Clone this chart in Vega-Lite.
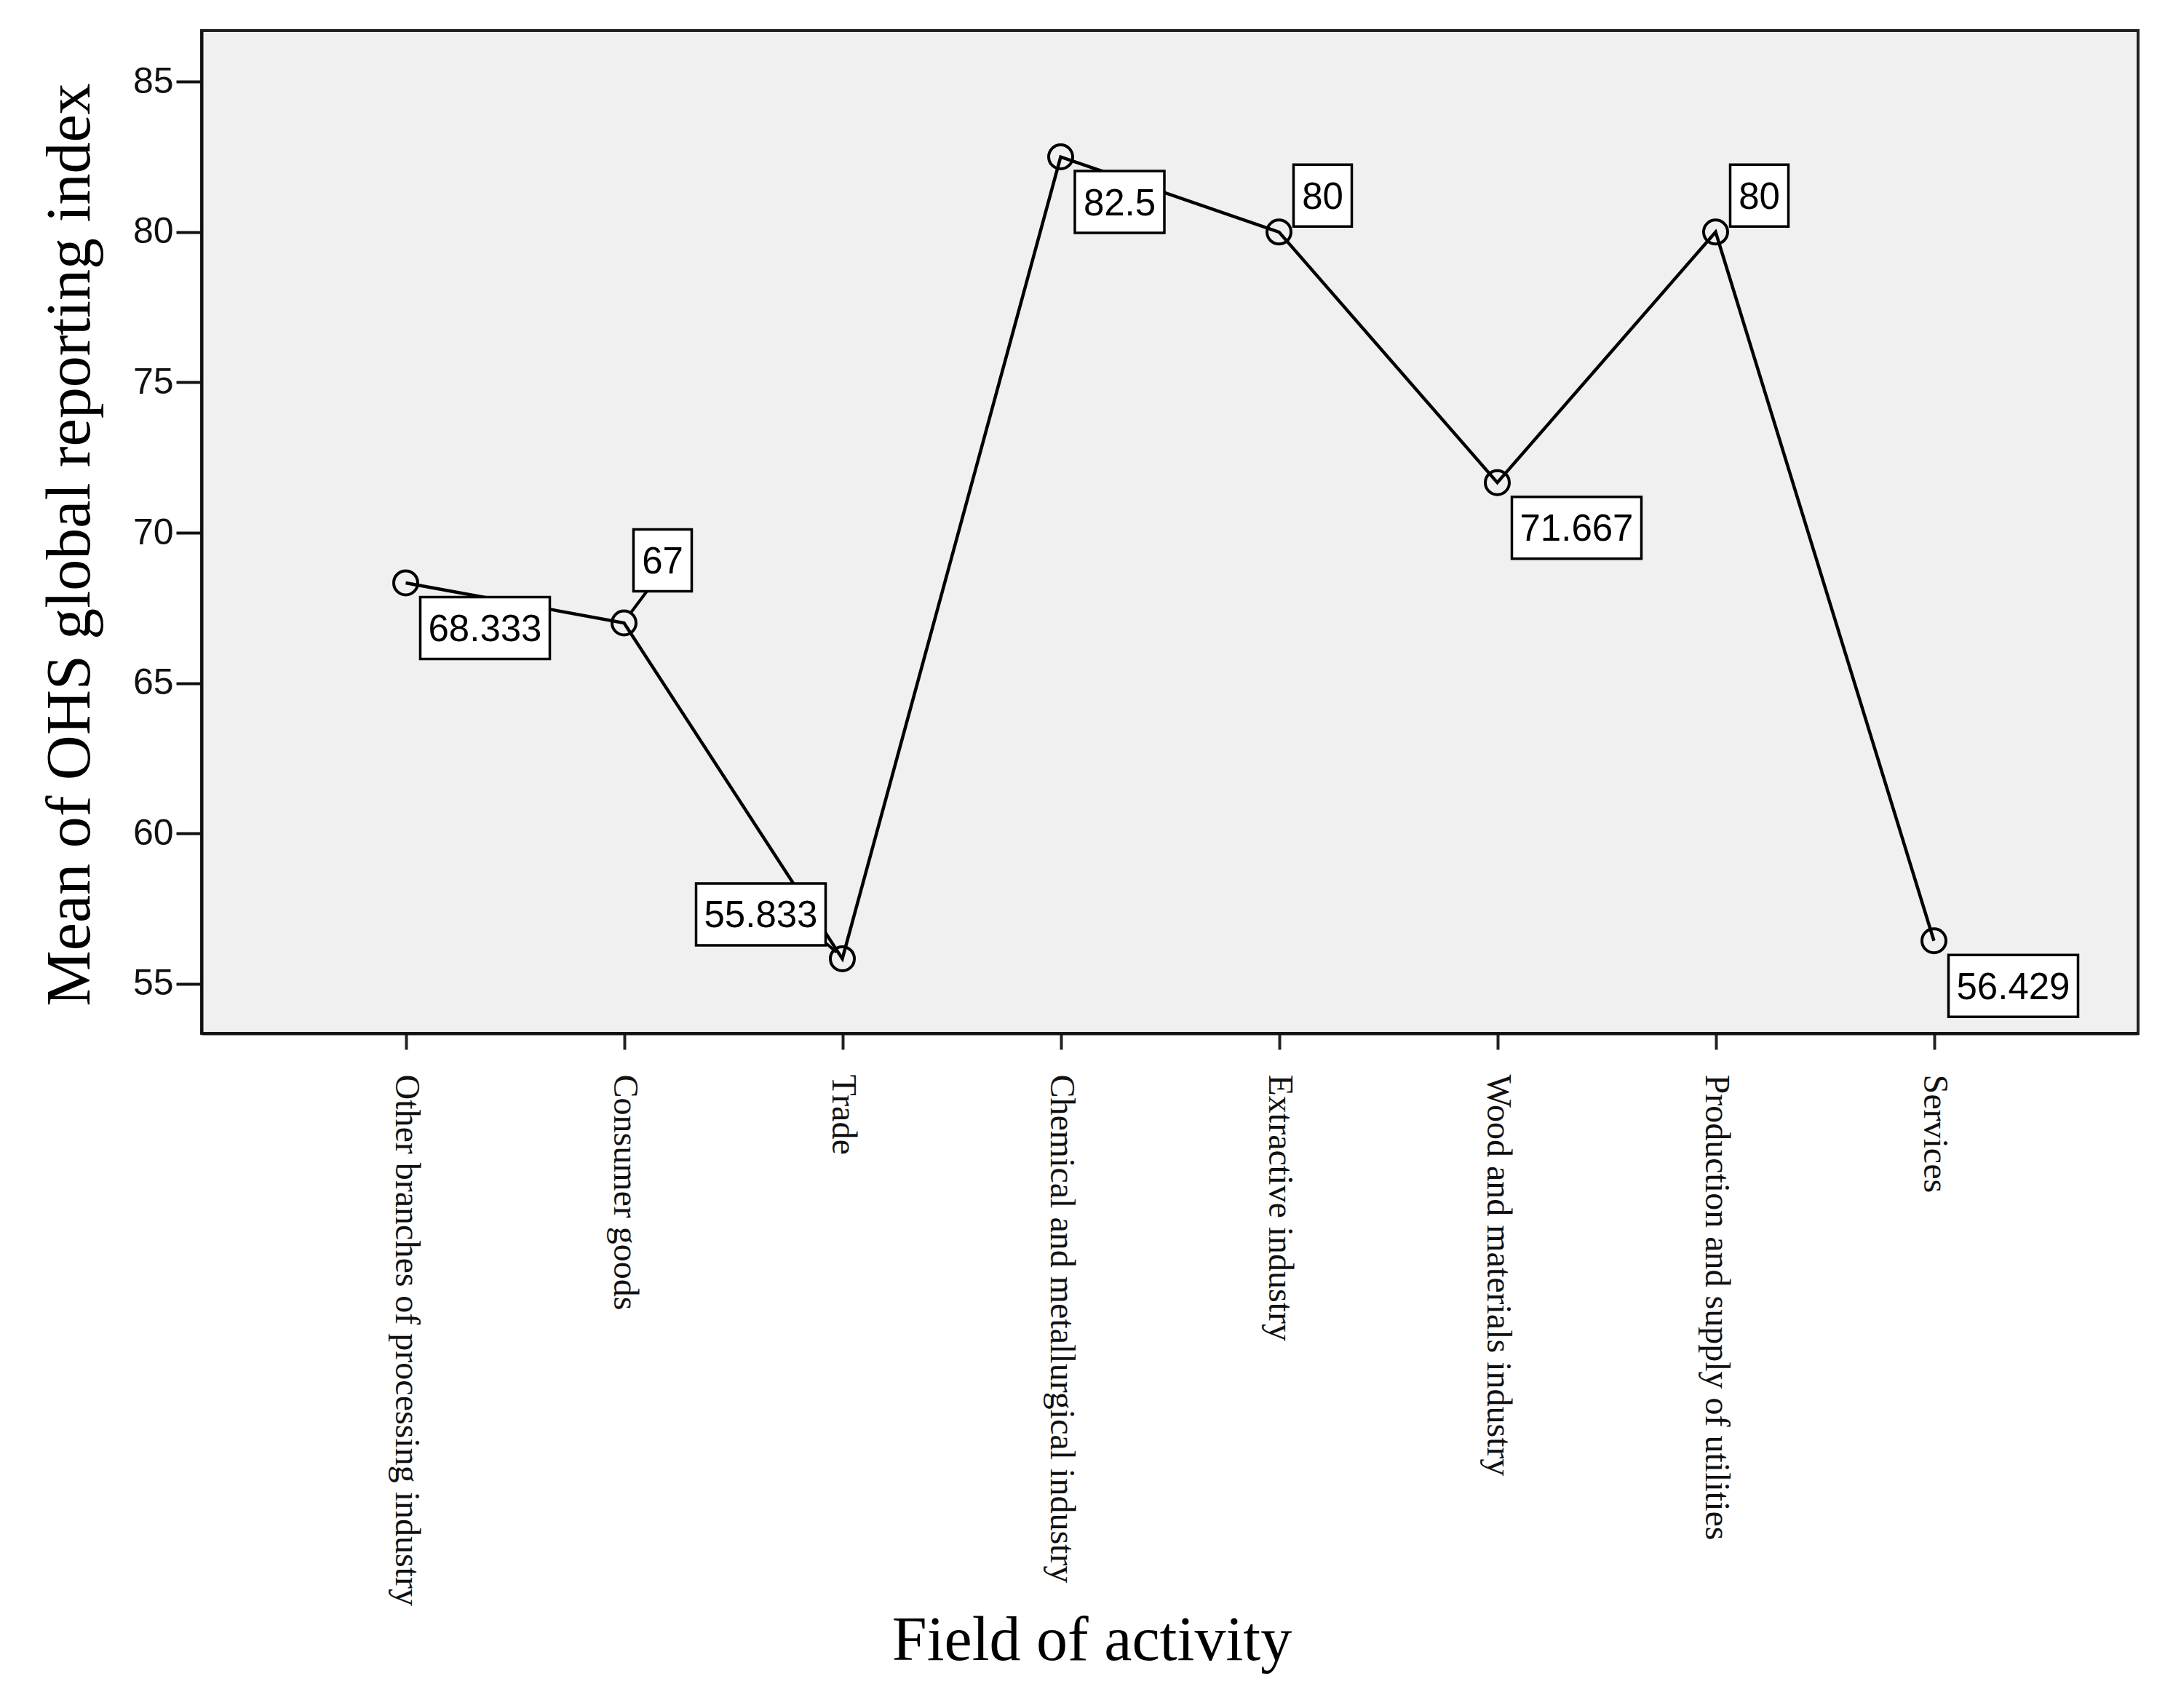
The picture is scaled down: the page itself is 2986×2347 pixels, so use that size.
{
  "$schema": "https://vega.github.io/schema/vega-lite/v6.json",
  "autosize": "none",
  "width": 2661,
  "height": 1378,
  "padding": {"left": 277, "top": 42, "right": 48, "bottom": 927},
  "background": "white",
  "config": {
    "view": {"fill": "#f0f0f0", "stroke": "#222222", "strokeWidth": 4}
  },
  "data": {
    "values": [
      {"field": "Other branches of processing industry", "mean": 68.333, "label": "68.333"},
      {"field": "Consumer goods", "mean": 67, "label": "67"},
      {"field": "Trade", "mean": 55.833, "label": "55.833"},
      {"field": "Chemical and metallurgical industry", "mean": 82.5, "label": "82.5"},
      {"field": "Extractive industry", "mean": 80, "label": "80"},
      {"field": "Wood and materials industry", "mean": 71.667, "label": "71.667"},
      {"field": "Production and supply of utilities", "mean": 80, "label": "80"},
      {"field": "Services", "mean": 56.429, "label": "56.429"}
    ]
  },
  "encoding": {
    "x": {
      "field": "field",
      "type": "nominal",
      "sort": null,
      "scale": {"type": "point", "padding": 0.935},
      "axis": {
        "title": "Field of activity",
        "titleFont": "Liberation Serif",
        "titleFontSize": 86,
        "titleFontWeight": "normal",
        "titleColor": "#000000",
        "titleX": 1223,
        "titleY": 860,
        "titleBaseline": "alphabetic",
        "titleAlign": "center",
        "labelAngle": 90,
        "labelAlign": "left",
        "labelBaseline": "middle",
        "labelFont": "Liberation Serif",
        "labelFontSize": 48,
        "labelColor": "#111111",
        "labelPadding": 34,
        "labelLimit": 0,
        "tickSize": 22,
        "tickWidth": 4,
        "tickColor": "#222222",
        "domainColor": "#111111",
        "domainWidth": 4,
        "grid": false
      }
    },
    "y": {
      "field": "mean",
      "type": "quantitative",
      "scale": {"domain": [53.35, 86.7], "nice": false, "zero": false},
      "axis": {
        "title": "Mean of OHS global reporting index",
        "titleFont": "Liberation Serif",
        "titleFontSize": 86,
        "titleFontWeight": "normal",
        "titleColor": "#000000",
        "titleAngle": -90,
        "titleX": -155,
        "titleY": 706,
        "titleBaseline": "alphabetic",
        "titleAlign": "center",
        "values": [55, 60, 65, 70, 75, 80, 85],
        "labelFont": "Liberation Sans",
        "labelFontSize": 50,
        "labelColor": "#111111",
        "labelPadding": 4,
        "tickSize": 35,
        "tickWidth": 4,
        "tickColor": "#111111",
        "domainColor": "#111111",
        "domainWidth": 4,
        "grid": false
      }
    }
  },
  "layer": [
    {"mark": {"type": "line", "color": "#000000", "strokeWidth": 4.5}},
    {"mark": {"type": "point", "shape": "circle", "filled": false, "stroke": "#000000", "strokeWidth": 4, "size": 1089, "opacity": 1}},
    {
      "transform": [{"filter": {"field": "field", "equal": "Consumer goods"}}],
      "mark": {"type": "rule", "color": "#000000", "strokeWidth": 4, "xOffset": 10, "yOffset": -15, "x2Offset": 31, "y2Offset": -43},
      "encoding": {"x2": {"field": "field"}, "y2": {"field": "mean"}}
    },
    {
      "transform": [{"filter": {"field": "field", "equal": "Trade"}}],
      "mark": {"type": "rule", "color": "#000000", "strokeWidth": 4, "xOffset": -8, "yOffset": -9, "x2Offset": -22, "y2Offset": -21},
      "encoding": {"x2": {"field": "field"}, "y2": {"field": "mean"}}
    },
    {
      "transform": [{"filter": {"field": "field", "oneOf": ["Other branches of processing industry", "Wood and materials industry", "Services"]}}],
      "mark": {"type": "point", "shape": "M-1,-0.4775H1V0.4775H-1Z", "size": 31684, "filled": true, "fill": "#ffffff", "stroke": "#000000", "strokeWidth": 3.5, "opacity": 1, "xOffset": 109, "yOffset": 62}
    },
    {
      "transform": [{"filter": {"field": "field", "equal": "Chemical and metallurgical industry"}}],
      "mark": {"type": "point", "shape": "M-1,-0.691H1V0.691H-1Z", "size": 15129, "filled": true, "fill": "#ffffff", "stroke": "#000000", "strokeWidth": 3.5, "opacity": 1, "xOffset": 81, "yOffset": 62}
    },
    {
      "transform": [{"filter": {"field": "field", "oneOf": ["Extractive industry", "Production and supply of utilities"]}}],
      "mark": {"type": "point", "shape": "M-1,-1.0625H1V1.0625H-1Z", "size": 6400, "filled": true, "fill": "#ffffff", "stroke": "#000000", "strokeWidth": 3.5, "opacity": 1, "xOffset": 60, "yOffset": -50}
    },
    {
      "transform": [{"filter": {"field": "field", "equal": "Consumer goods"}}],
      "mark": {"type": "point", "shape": "M-1,-1.0625H1V1.0625H-1Z", "size": 6400, "filled": true, "fill": "#ffffff", "stroke": "#000000", "strokeWidth": 3.5, "opacity": 1, "xOffset": 53, "yOffset": -86}
    },
    {
      "transform": [{"filter": {"field": "field", "equal": "Trade"}}],
      "mark": {"type": "point", "shape": "M-1,-0.4775H1V0.4775H-1Z", "size": 31684, "filled": true, "fill": "#ffffff", "stroke": "#000000", "strokeWidth": 3.5, "opacity": 1, "xOffset": -112, "yOffset": -61}
    },
    {
      "transform": [{"filter": {"field": "field", "oneOf": ["Other branches of processing industry", "Wood and materials industry", "Services"]}}],
      "mark": {"type": "text", "font": "Liberation Sans", "fontSize": 51, "color": "#000000", "align": "center", "baseline": "alphabetic", "xOffset": 109, "yOffset": 80},
      "encoding": {"text": {"field": "label"}}
    },
    {
      "transform": [{"filter": {"field": "field", "equal": "Chemical and metallurgical industry"}}],
      "mark": {"type": "text", "font": "Liberation Sans", "fontSize": 51, "color": "#000000", "align": "center", "baseline": "alphabetic", "xOffset": 81, "yOffset": 80},
      "encoding": {"text": {"field": "label"}}
    },
    {
      "transform": [{"filter": {"field": "field", "oneOf": ["Extractive industry", "Production and supply of utilities"]}}],
      "mark": {"type": "text", "font": "Liberation Sans", "fontSize": 51, "color": "#000000", "align": "center", "baseline": "alphabetic", "xOffset": 60, "yOffset": -32},
      "encoding": {"text": {"field": "label"}}
    },
    {
      "transform": [{"filter": {"field": "field", "equal": "Consumer goods"}}],
      "mark": {"type": "text", "font": "Liberation Sans", "fontSize": 51, "color": "#000000", "align": "center", "baseline": "alphabetic", "xOffset": 53, "yOffset": -68},
      "encoding": {"text": {"field": "label"}}
    },
    {
      "transform": [{"filter": {"field": "field", "equal": "Trade"}}],
      "mark": {"type": "text", "font": "Liberation Sans", "fontSize": 51, "color": "#000000", "align": "center", "baseline": "alphabetic", "xOffset": -112, "yOffset": -43},
      "encoding": {"text": {"field": "label"}}
    }
  ]
}
